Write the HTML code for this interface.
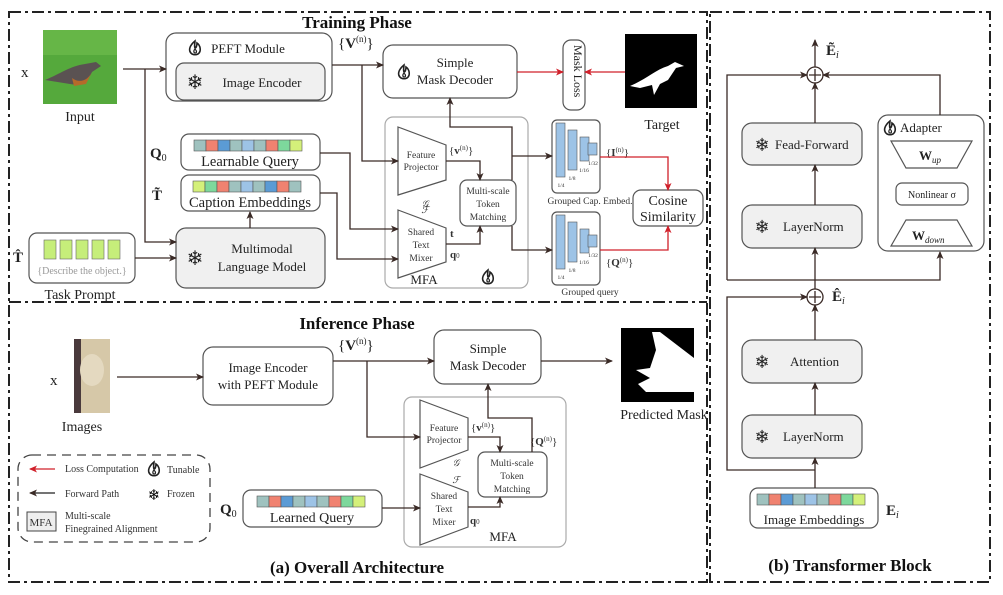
<!DOCTYPE html>
<html><head><meta charset="utf-8"><style>
html,body{margin:0;padding:0;background:#fff;}
svg{display:block;font-family:"Liberation Serif",serif;}
</style></head><body>
<svg width="1003" height="595" viewBox="0 0 1003 595" xmlns="http://www.w3.org/2000/svg">
<defs>
<marker id="a" markerWidth="8" markerHeight="8" refX="7" refY="4" orient="auto" markerUnits="userSpaceOnUse"><path d="M0,0.5 L8,4 L0,7.5 L2,4z" fill="#3a2a26"/></marker>
<marker id="r" markerWidth="8" markerHeight="8" refX="7" refY="4" orient="auto" markerUnits="userSpaceOnUse"><path d="M0,0.5 L8,4 L0,7.5 L2,4z" fill="#d0202a"/></marker>
<g id="flame"><path d="M0,-7 C-6,-2 -7,3 -3,6 C-1,7 1,7 3,6 C7,3 5,-3 2,-5 C2,-2 1,0 0,0 C-1,-2 0,-5 0,-7z" fill="none" stroke="#222" stroke-width="1.6"/><path d="M0,1 C-2,3 -1,5 0,5 C2,5 2,3 0,1z" fill="none" stroke="#222" stroke-width="1.2"/></g>
</defs>
<g fill="none" stroke="#222" stroke-width="2" stroke-dasharray="12,4,3,4">
<rect x="9" y="12" width="698" height="570"/>
<line x1="9" y1="302" x2="707" y2="302"/>
<rect x="710" y="12" width="280" height="570"/>
</g>
<g font-weight="bold" font-size="17" text-anchor="middle" fill="#111">
<text x="357" y="28">Training Phase</text>
<text x="357" y="329">Inference Phase</text>
<text x="357" y="573">(a) Overall Architecture</text>
<text x="850" y="571">(b) Transformer Block</text>
</g>
<!-- images -->
<rect x="43" y="30" width="74" height="74" fill="#55a93c"/>
<rect x="43" y="30" width="74" height="25" fill="#66b647"/>
<path d="M45,80 C60,74 70,66 85,64 L96,62 L101,66 L92,72 C88,82 80,86 70,84 Z" fill="#5a5252"/>
<path d="M72,78 C80,84 88,80 92,72 L86,84 L74,86Z" fill="#b56a2a"/>
<rect x="74" y="339" width="36" height="74" fill="#d6c8a8"/>
<rect x="74" y="339" width="7" height="74" fill="#4a3a3c"/>
<ellipse cx="92" cy="370" rx="12" ry="16" fill="#e4d9c0"/>
<rect x="625" y="34" width="72" height="74" fill="#000"/>
<path d="M630,86 C645,80 655,70 668,66 L675,62 L684,66 L676,68 L668,80 L660,84 L654,95 L652,85 L640,88Z" fill="#fff"/>
<rect x="621" y="328" width="73" height="74" fill="#000"/>
<path d="M652,332 L660,332 L694,358 L694,392 L646,392 L638,384 L650,378 L636,370 L650,368 L656,350Z" fill="#fff"/>
<g font-size="14" fill="#222" text-anchor="middle">
<text x="80" y="121">Input</text>
<text x="662" y="129">Target</text>
<text x="82" y="431">Images</text>
<text x="664" y="419">Predicted Mask</text>
<text x="80" y="299">Task Prompt</text>
</g>
<g font-size="15" fill="#222">
<text x="21" y="77">x</text>
<text x="50" y="385">x</text>
<text x="13" y="262" font-weight="bold">T̂</text>
<text x="150" y="158" font-weight="bold">Q<tspan font-size="10" font-weight="normal" dy="3">0</tspan></text>
<text x="152" y="200" font-weight="bold">T̃</text>
<text x="220" y="514" font-weight="bold">Q<tspan font-size="10" font-weight="normal" dy="3">0</tspan></text>
<text x="338" y="48">{<tspan font-weight="bold">V</tspan><tspan font-size="9" dy="-6">(n)</tspan><tspan dy="6">}</tspan></text>
<text x="338" y="350">{<tspan font-weight="bold">V</tspan><tspan font-size="9" dy="-6">(n)</tspan><tspan dy="6">}</tspan></text>
</g>
<!-- training boxes -->
<g stroke="#555" stroke-width="1.2">
<rect x="166" y="33" width="166" height="68" rx="10" fill="#fff"/>
<rect x="176" y="63" width="149" height="37" rx="8" fill="#f0f0f0"/>
<rect x="383" y="45" width="134" height="53" rx="10" fill="#fff"/>
<rect x="563" y="40" width="22" height="70" rx="8" fill="#fff"/>
<rect x="181" y="134" width="139" height="36" rx="8" fill="#fff"/>
<rect x="181" y="175" width="139" height="36" rx="8" fill="#fff"/>
<rect x="176" y="228" width="149" height="60" rx="10" fill="#f0f0f0"/>
<rect x="29" y="233" width="106" height="50" rx="8" fill="#fff"/>
<rect x="385" y="117" width="143" height="171" rx="8" fill="#fff" stroke="#aaa"/>
<rect x="460" y="180" width="56" height="46" rx="7" fill="#fff"/>
<rect x="552" y="120" width="48" height="73" rx="5" fill="#fff"/>
<rect x="552" y="212" width="48" height="73" rx="5" fill="#fff"/>
<rect x="633" y="190" width="70" height="36" rx="8" fill="#fff"/>
<path d="M398,127 L446,145 L446,180 L398,195Z" fill="#fff"/>
<path d="M398,210 L446,228 L446,262 L398,278Z" fill="#fff"/>
</g>
<!-- token strips -->
<g stroke="#555" stroke-width="0.6">
<rect x="194" y="140" width="12" height="11" fill="#9fc2bf"/><rect x="206" y="140" width="12" height="11" fill="#f08270"/><rect x="218" y="140" width="12" height="11" fill="#5b9bd5"/><rect x="230" y="140" width="12" height="11" fill="#9fc2bf"/><rect x="242" y="140" width="12" height="11" fill="#9dc3e6"/><rect x="254" y="140" width="12" height="11" fill="#9fc2bf"/><rect x="266" y="140" width="12" height="11" fill="#f08270"/><rect x="278" y="140" width="12" height="11" fill="#7dd89c"/><rect x="290" y="140" width="12" height="11" fill="#d4f07a"/>
<rect x="193" y="181" width="12" height="11" fill="#d4f07a"/><rect x="205" y="181" width="12" height="11" fill="#7dd89c"/><rect x="217" y="181" width="12" height="11" fill="#f08270"/><rect x="229" y="181" width="12" height="11" fill="#9fc2bf"/><rect x="241" y="181" width="12" height="11" fill="#9dc3e6"/><rect x="253" y="181" width="12" height="11" fill="#9fc2bf"/><rect x="265" y="181" width="12" height="11" fill="#5b9bd5"/><rect x="277" y="181" width="12" height="11" fill="#f08270"/><rect x="289" y="181" width="12" height="11" fill="#9fc2bf"/>
<rect x="44" y="240" width="12" height="19" fill="#c6ee7a" stroke="#666"/><rect x="60" y="240" width="12" height="19" fill="#c6ee7a" stroke="#666"/><rect x="76" y="240" width="12" height="19" fill="#c6ee7a" stroke="#666"/><rect x="92" y="240" width="12" height="19" fill="#c6ee7a" stroke="#666"/><rect x="108" y="240" width="12" height="19" fill="#c6ee7a" stroke="#666"/>
<rect x="556" y="123" width="9" height="54" fill="#9dc3e6"/><rect x="568" y="130" width="9" height="40" fill="#9dc3e6"/><rect x="580" y="137" width="9" height="24" fill="#9dc3e6"/><rect x="588" y="143" width="9" height="12" fill="#9dc3e6"/>
<rect x="556" y="215" width="9" height="54" fill="#9dc3e6"/><rect x="568" y="222" width="9" height="40" fill="#9dc3e6"/><rect x="580" y="229" width="9" height="24" fill="#9dc3e6"/><rect x="588" y="235" width="9" height="12" fill="#9dc3e6"/>
</g>
<g font-size="5.5" fill="#333" text-anchor="middle">
<text x="561" y="187">1/4</text><text x="572" y="180">1/8</text><text x="584" y="172">1/16</text><text x="593" y="165">1/32</text>
<text x="561" y="279">1/4</text><text x="572" y="272">1/8</text><text x="584" y="264">1/16</text><text x="593" y="257">1/32</text>
</g>
<g font-size="13" fill="#222" text-anchor="middle">
<text x="248" y="53">PEFT Module</text>
<text x="262" y="87">Image Encoder</text>
<text x="455" y="67">Simple</text><text x="455" y="84">Mask Decoder</text>
<text x="250" y="166" font-size="14.5">Learnable Query</text>
<text x="250" y="207" font-size="14.5">Caption Embeddings</text>
<text x="262" y="253">Multimodal</text><text x="262" y="271">Language Model</text>
<text x="82" y="274" font-size="10" fill="#999">{Describe the object.}</text>
<text x="668" y="205" font-size="14">Cosine</text><text x="668" y="221" font-size="14">Similarity</text>
<text x="424" y="284">MFA</text>
</g>
<text x="574" y="45" font-size="12" transform="rotate(90 574 45)" fill="#222">Mask Loss</text>
<g font-size="9.5" fill="#333" text-anchor="middle">
<text x="421" y="158">Feature</text><text x="421" y="170">Projector</text>
<text x="421" y="235">Shared</text><text x="421" y="248">Text</text><text x="421" y="261">Mixer</text>
<text x="488" y="194">Multi-scale</text><text x="488" y="207">Token</text><text x="488" y="220">Matching</text>
<text x="590" y="204">Grouped Cap. Embed.</text>
<text x="590" y="295">Grouped query</text>
<text x="425" y="207" font-style="italic">𝒢</text>
<text x="425" y="213" font-style="italic">ℱ</text>
</g>
<g font-size="11" fill="#333">
<text x="449" y="154">{<tspan font-weight="bold">v</tspan><tspan font-size="7" dy="-4">(n)</tspan><tspan dy="4">}</tspan></text>
<text x="606" y="156">{<tspan font-weight="bold">I</tspan><tspan font-size="7" dy="-4">(n)</tspan><tspan dy="4">}</tspan></text>
<text x="606" y="266">{<tspan font-weight="bold">Q</tspan><tspan font-size="7" dy="-4">(n)</tspan><tspan dy="4">}</tspan></text>
<text x="450" y="237" font-weight="bold">t</text>
<text x="450" y="258" font-weight="bold">q<tspan font-size="7" font-weight="normal">0</tspan></text>
</g>
<use href="#flame" x="195" y="48"/><use href="#flame" x="404" y="72"/><use href="#flame" x="488" y="277"/>
<g font-size="20" font-weight="bold" fill="#222" font-family="DejaVu Sans,sans-serif" text-anchor="middle">
<text x="195" y="89">❄</text><text x="195" y="265">❄</text>
</g>
<!-- training connectors -->
<g fill="none" stroke="#3a2a26" stroke-width="1.3">
<path d="M123,69 L166,69" marker-end="url(#a)"/>
<path d="M145,69 L145,242 L176,242" marker-end="url(#a)"/>
<path d="M135,258 L176,258" marker-end="url(#a)"/>
<path d="M250,228 L250,212" marker-end="url(#a)"/>
<path d="M332,65 L383,65" marker-end="url(#a)"/>
<path d="M362,65 L362,161 L398,161" marker-end="url(#a)"/>
<path d="M320,153 L350,153 L350,229 L398,229" marker-end="url(#a)"/>
<path d="M320,193 L337,193 L337,259 L398,259" marker-end="url(#a)"/>
<path d="M446,161 L480,161 L480,180" marker-end="url(#a)"/>
<path d="M446,244 L480,244 L480,226" marker-end="url(#a)"/>
<path d="M512,180 L512,127 L450,127 L450,98" marker-end="url(#a)"/>
<path d="M512,156 L552,156" marker-end="url(#a)"/>
<path d="M512,226 L512,250 L552,250" marker-end="url(#a)"/>
</g>
<g fill="none" stroke="#d0202a" stroke-width="1.3">
<path d="M517,72 L563,72" marker-end="url(#r)"/>
<path d="M625,72 L585,72" marker-end="url(#r)"/>
<path d="M600,157 L668,157 L668,190" marker-end="url(#r)"/>
<path d="M600,250 L668,250 L668,226" marker-end="url(#r)"/>
</g>
<!-- inference -->
<g stroke="#555" stroke-width="1.2" fill="#fff">
<rect x="203" y="347" width="130" height="58" rx="10"/>
<rect x="434" y="330" width="107" height="54" rx="10"/>
<rect x="404" y="397" width="162" height="150" rx="8" stroke="#aaa"/>
<path d="M420,400 L468,418 L468,450 L420,468Z"/>
<path d="M420,474 L468,492 L468,527 L420,545Z"/>
<rect x="478" y="452" width="69" height="45" rx="7"/>
<rect x="243" y="490" width="139" height="37" rx="8"/>
</g>
<g stroke="#555" stroke-width="0.6">
<rect x="257" y="496" width="12" height="11" fill="#9fc2bf"/><rect x="269" y="496" width="12" height="11" fill="#f08270"/><rect x="281" y="496" width="12" height="11" fill="#5b9bd5"/><rect x="293" y="496" width="12" height="11" fill="#9fc2bf"/><rect x="305" y="496" width="12" height="11" fill="#9dc3e6"/><rect x="317" y="496" width="12" height="11" fill="#9fc2bf"/><rect x="329" y="496" width="12" height="11" fill="#f08270"/><rect x="341" y="496" width="12" height="11" fill="#7dd89c"/><rect x="353" y="496" width="12" height="11" fill="#d4f07a"/>
</g>
<g font-size="13" fill="#222" text-anchor="middle">
<text x="268" y="372">Image Encoder</text><text x="268" y="389">with PEFT Module</text>
<text x="488" y="353">Simple</text><text x="488" y="370">Mask Decoder</text>
<text x="312" y="522" font-size="14">Learned Query</text>
<text x="503" y="541">MFA</text>
</g>
<g font-size="9.5" fill="#333" text-anchor="middle">
<text x="444" y="431">Feature</text><text x="444" y="443">Projector</text>
<text x="444" y="499">Shared</text><text x="444" y="512">Text</text><text x="444" y="525">Mixer</text>
<text x="512" y="466">Multi-scale</text><text x="512" y="479">Token</text><text x="512" y="492">Matching</text>
<text x="456" y="466" font-style="italic">𝒢</text><text x="456" y="483" font-style="italic">ℱ</text>
</g>
<g font-size="11" fill="#333">
<text x="471" y="431">{<tspan font-weight="bold">v</tspan><tspan font-size="7" dy="-4">(n)</tspan><tspan dy="4">}</tspan></text>
<text x="530" y="445">{<tspan font-weight="bold">Q</tspan><tspan font-size="7" dy="-4">(n)</tspan><tspan dy="4">}</tspan></text>
<text x="470" y="524" font-weight="bold">q<tspan font-size="7" font-weight="normal">0</tspan></text>
</g>
<g fill="none" stroke="#3a2a26" stroke-width="1.3">
<path d="M117,377 L203,377" marker-end="url(#a)"/>
<path d="M333,361 L434,361" marker-end="url(#a)"/>
<path d="M367,361 L367,437 L420,437" marker-end="url(#a)"/>
<path d="M541,361 L612,361" marker-end="url(#a)"/>
<path d="M468,437 L500,437 L500,452" marker-end="url(#a)"/>
<path d="M468,507 L500,507 L500,497" marker-end="url(#a)"/>
<path d="M532,452 L532,418 L488,418 L488,384" marker-end="url(#a)"/>
<path d="M382,508 L420,508" marker-end="url(#a)"/>
</g>
<!-- legend -->
<rect x="18" y="455" width="192" height="87" rx="14" fill="none" stroke="#444" stroke-width="1.3" stroke-dasharray="9,6"/>
<path d="M55,469 L30,469" stroke="#d0202a" stroke-width="1.3" marker-end="url(#r)"/>
<path d="M55,493 L30,493" stroke="#222" stroke-width="1.3" marker-end="url(#a)"/>
<rect x="27" y="512" width="29" height="19" fill="#eee" stroke="#444"/>
<g font-size="10" fill="#333">
<text x="65" y="472">Loss Computation</text><text x="167" y="473">Tunable</text>
<text x="65" y="497">Forward Path</text><text x="167" y="497">Frozen</text>
<text x="65" y="519">Multi-scale</text><text x="65" y="532">Finegrained Alignment</text>
<text x="41" y="526" text-anchor="middle" font-size="11">MFA</text>
</g>
<use href="#flame" x="154" y="469"/>
<text x="154" y="500" font-size="15" font-weight="bold" text-anchor="middle" font-family="DejaVu Sans,sans-serif">❄</text>
<!-- right panel -->
<g stroke="#555" stroke-width="1.2">
<rect x="742" y="123" width="120" height="42" rx="10" fill="#f0f0f0"/>
<rect x="742" y="205" width="120" height="43" rx="10" fill="#f0f0f0"/>
<rect x="742" y="340" width="120" height="43" rx="10" fill="#f0f0f0"/>
<rect x="742" y="415" width="120" height="43" rx="10" fill="#f0f0f0"/>
<rect x="878" y="115" width="106" height="136" rx="10" fill="#fff"/>
<path d="M891,141 L972,141 L957,168 L906,168Z" fill="#fff"/>
<rect x="896" y="183" width="72" height="22" rx="6" fill="#fff"/>
<path d="M906,220 L957,220 L972,246 L891,246Z" fill="#fff"/>
<rect x="750" y="488" width="128" height="40" rx="8" fill="#fff"/>
</g>
<g stroke="#555" stroke-width="0.6">
<rect x="757" y="494" width="12" height="11" fill="#9fc2bf"/><rect x="769" y="494" width="12" height="11" fill="#f08270"/><rect x="781" y="494" width="12" height="11" fill="#5b9bd5"/><rect x="793" y="494" width="12" height="11" fill="#9fc2bf"/><rect x="805" y="494" width="12" height="11" fill="#9dc3e6"/><rect x="817" y="494" width="12" height="11" fill="#9fc2bf"/><rect x="829" y="494" width="12" height="11" fill="#f08270"/><rect x="841" y="494" width="12" height="11" fill="#7dd89c"/><rect x="853" y="494" width="12" height="11" fill="#d4f07a"/>
</g>
<g font-size="13" fill="#222">
<text x="775" y="149">Fead-Forward</text>
<text x="783" y="231">LayerNorm</text>
<text x="790" y="366">Attention</text>
<text x="783" y="441">LayerNorm</text>
<text x="900" y="132">Adapter</text>
<text x="814" y="524" text-anchor="middle">Image Embeddings</text>
<text x="919" y="160" font-weight="bold">W<tspan font-size="9" font-weight="normal" font-style="italic" dy="3">up</tspan></text>
<text x="912" y="240" font-weight="bold">W<tspan font-size="9" font-weight="normal" font-style="italic" dy="3">down</tspan></text>
<text x="932" y="198" font-size="10" text-anchor="middle">Nonlinear σ</text>
</g>
<g font-size="15" fill="#222" font-weight="bold">
<text x="826" y="55">Ẽ<tspan font-size="10" font-weight="normal" font-style="italic" dy="3">i</tspan></text>
<text x="832" y="301">Ê<tspan font-size="10" font-weight="normal" font-style="italic" dy="3">i</tspan></text>
<text x="886" y="515">E<tspan font-size="10" font-weight="normal" font-style="italic" dy="3">i</tspan></text>
</g>
<g font-size="18" font-weight="bold" fill="#222" font-family="DejaVu Sans,sans-serif" text-anchor="middle">
<text x="762" y="151">❄</text><text x="762" y="233">❄</text><text x="762" y="368">❄</text><text x="762" y="443">❄</text>
</g>
<use href="#flame" x="890" y="128"/>
<g fill="none" stroke="#3a2a26" stroke-width="1.3">
<circle cx="815" cy="75" r="8"/><path d="M815,69 L815,81 M809,75 L821,75"/>
<circle cx="815" cy="297" r="8"/><path d="M815,291 L815,303 M809,297 L821,297"/>
<path d="M815,67 L815,40" marker-end="url(#a)"/>
<path d="M815,123 L815,83" marker-end="url(#a)"/>
<path d="M815,205 L815,165" marker-end="url(#a)"/>
<path d="M815,289 L815,248" marker-end="url(#a)"/>
<path d="M815,340 L815,305" marker-end="url(#a)"/>
<path d="M815,415 L815,383" marker-end="url(#a)"/>
<path d="M815,488 L815,458" marker-end="url(#a)"/>
<path d="M727,280 L727,75 L807,75" marker-end="url(#a)"/>
<path d="M727,280 L940,280 L940,252" marker-end="url(#a)"/>
<path d="M940,115 L940,75 L823,75" marker-end="url(#a)"/>
<path d="M815,470 L727,470 L727,297 L807,297" marker-end="url(#a)"/>
</g>
</svg>
</body></html>
